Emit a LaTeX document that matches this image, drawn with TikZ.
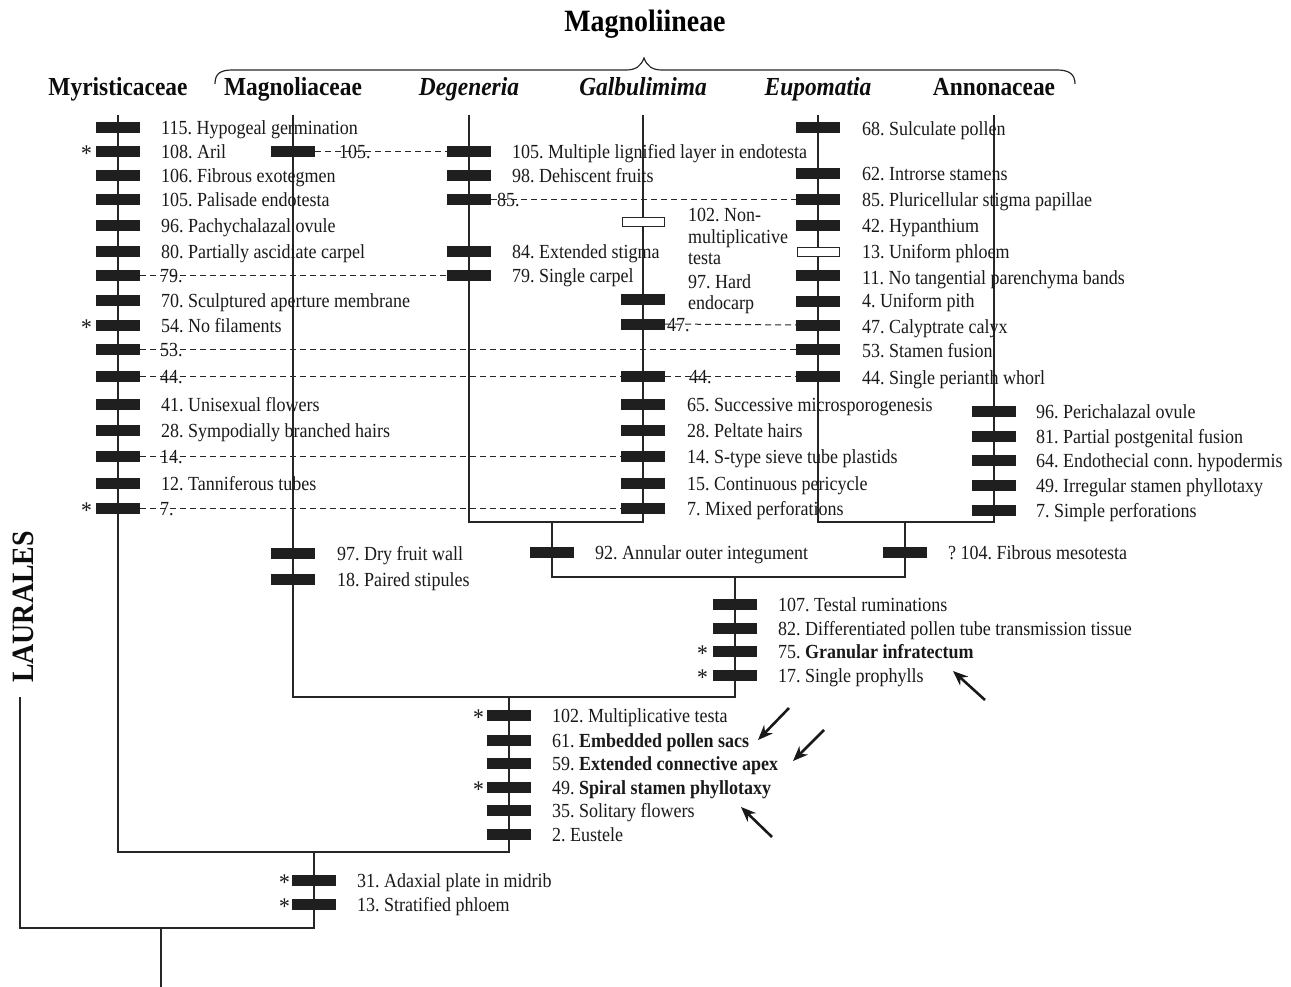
\documentclass[tikz,border=0pt]{standalone}
\usepackage{fontspec}
\setmainfont[FakeStretch=0.9]{Liberation Serif}
\usetikzlibrary{arrows.meta}
\frenchspacing
\begin{document}
\begin{tikzpicture}[x=1pt,y=-1pt,
  tree/.style={line width=1.2pt, black!85},
  bar/.style={fill=black!88, minimum width=44pt, minimum height=11pt, inner sep=0pt, outer sep=0pt},
  obar/.style={draw=black!85, fill=white, line width=1pt, minimum width=42pt, minimum height=9pt, inner sep=0pt, outer sep=0pt},
  lab/.style={anchor=base west, inner sep=0pt, text=black!90, font=\fontsize{20}{22}\selectfont\frenchspacing},
  dnum/.style={anchor=base west, inner sep=0pt, text=black!90, font=\fontsize{20}{22}\selectfont},
  ast/.style={anchor=base east, inner sep=0pt, text=black!90, font=\fontsize{24}{24}\selectfont},
  taxon/.style={anchor=base, inner sep=0pt, text=black!95, font=\fontsize{26}{28}\selectfont\bfseries},
  dline/.style={dash pattern=on 6pt off 4pt, line width=1pt, black!85},
  arr/.style={-{Stealth[length=15pt,width=12pt]}, line width=2.6pt, black!90}
]
\useasboundingbox (0,0) rectangle (1291,987);

% ---- header ----
\node[anchor=base, inner sep=0pt, font=\fontsize{31}{33}\selectfont\bfseries] (mgn) at (645,32) {Magnoliineae};
\draw[line width=1.2pt, black!85] (215,84) .. controls (215,74) and (220,70) .. (232,70) -- (626,70)
   .. controls (636,70) and (641,66) .. (644,58) .. controls (647,66) and (652,70) .. (662,70)
   -- (1057,70) .. controls (1069,70) and (1075,74) .. (1075,84);

\node[taxon] (tmyr) at (118,96) {Myristicaceae};
\node[taxon] (tmag) at (293,96) {Magnoliaceae};
\node[taxon] (tdeg) at (469,96) {\itshape Degeneria};
\node[taxon] (tgal) at (643,96) {\itshape Galbulimima};
\node[taxon] (teup) at (818,96) {\itshape Eupomatia};
\node[taxon] (tann) at (994,96) {Annonaceae};

\node[rotate=90, inner sep=0pt, font=\fontsize{31}{33}\selectfont\bfseries, text=black!95] (laur) at (23,607) {LAURALES};

% ---- tree coordinates ----
\coordinate (myrT) at (118,115); \coordinate (myrB) at (118,852);
\coordinate (magT) at (293,115); \coordinate (magB) at (293,697);
\coordinate (degT) at (469,115); \coordinate (degB) at (469,522);
\coordinate (galT) at (643,115); \coordinate (galB) at (643,522);
\coordinate (eupT) at (818,115); \coordinate (eupB) at (818,522);
\coordinate (annT) at (994,115); \coordinate (annB) at (994,522);
\coordinate (dgT) at (552,522); \coordinate (dgB) at (552,577);
\coordinate (eaT) at (905,522); \coordinate (eaB) at (905,577);
\coordinate (deT) at (735,577); \coordinate (deB) at (735,697);
\coordinate (mrT) at (509,697); \coordinate (mrB) at (509,852);
\coordinate (mlT) at (314,852); \coordinate (mlB) at (314,928);
\coordinate (laT) at (20,697); \coordinate (laB) at (20,928);
\coordinate (rtT) at (161,928); \coordinate (rtB) at (161,987);

\draw[tree] (degT) -- (degB) -- (galB) -- (galT);
\draw[tree] (eupT) -- (eupB) -- (annB) -- (annT);
\draw[tree] (dgT) -- (dgB) -- (eaB) -- (eaT);
\draw[tree] (magT) -- (magB) -- (deB) -- (deT);
\draw[tree] (myrT) -- (myrB) -- (mrB) -- (mrT);
\draw[tree] (laT) -- (laB) -- (mlB) -- (mlT);
\draw[tree] (rtT) -- (rtB);

% ---- Myristicaceae ----
\foreach \n/\y in {115/128,108/152,106/176,105/200,96/226,80/252,79/276,70/300,54/325,53/349,44/376,41/404,28/430,14/456,12/483,7/508}
  \node[bar] (my\n) at (118,\y) {};
\node[lab] (lmy115) at (161,135) {115. Hypogeal germination};
\node[lab] (lmy108) at (161,159) {108. Aril};
\node[lab] (lmy106) at (161,183) {106. Fibrous exotegmen};
\node[lab] (lmy105) at (161,207) {105. Palisade endotesta};
\node[lab] (lmy96) at (161,233) {96. Pachychalazal ovule};
\node[lab] (lmy80) at (161,259) {80. Partially ascidiate carpel};
\node[lab] (lmy70) at (161,307) {70. Sculptured aperture membrane};
\node[lab] (lmy54) at (161,332) {54. No filaments};
\node[lab] (lmy41) at (161,411) {41. Unisexual flowers};
\node[lab] (lmy28) at (161,437) {28. Sympodially branched hairs};
\node[lab] (lmy12) at (161,490) {12. Tanniferous tubes};
\node[ast] (amy108) at (92,162) {*};
\node[ast] (amy54) at (92,335) {*};
\node[ast] (amy7) at (92,518) {*};

% ---- Magnoliaceae ----
\node[bar] (ma105) at (293,152) {};
\node[bar] (ma97) at (293,553) {};
\node[bar] (ma18) at (293,579) {};
\node[lab] (lma97) at (337,560) {97. Dry fruit wall};
\node[lab] (lma18) at (337,586) {18. Paired stipules};

% ---- Degeneria ----
\foreach \n/\y in {105/152,98/176,85/200,84/252,79/276}
  \node[bar] (de\n) at (469,\y) {};
\node[lab] (lde105) at (512,159) {105. Multiple lignified layer in endotesta};
\node[lab] (lde98) at (512,183) {98. Dehiscent fruits};
\node[lab] (lde84) at (512,259) {84. Extended stigma};
\node[lab] (lde79) at (512,283) {79. Single carpel};

% ---- Galbulimima ----
\node[obar] (ga102) at (643,222) {};
\foreach \n/\y in {97/299,47/324,44/376,65/404,28/430,14/456,15/483,7/508}
  \node[bar] (ga\n) at (643,\y) {};
\node[lab] (lga102a) at (688,222) {102. Non-};
\node[lab] (lga102b) at (688,244) {multiplicative};
\node[lab] (lga102c) at (688,265) {testa};
\node[lab] (lga97a) at (688,288) {97. Hard};
\node[lab] (lga97b) at (688,309) {endocarp};
\node[lab] (lga65) at (687,411) {65. Successive microsporogenesis};
\node[lab] (lga28) at (687,437) {28. Peltate hairs};
\node[lab] (lga14) at (687,463) {14. S-type sieve tube plastids};
\node[lab] (lga15) at (687,490) {15. Continuous pericycle};
\node[lab] (lga7) at (687,515) {7. Mixed perforations};

% ---- Eupomatia ----
\foreach \n/\y in {68/128,62/174,85/200,42/226,11/276,4/301,47/325,53/349,44/376}
  \node[bar] (eu\n) at (818,\y) {};
\node[obar] (eu13) at (818,252) {};
\node[lab] (leu68) at (862,136) {68. Sulculate pollen};
\node[lab] (leu62) at (862,181) {62. Introrse stamens};
\node[lab] (leu85) at (862,207) {85. Pluricellular stigma papillae};
\node[lab] (leu42) at (862,233) {42. Hypanthium};
\node[lab] (leu13) at (862,259) {13. Uniform phloem};
\node[lab] (leu11) at (862,284) {11. No tangential parenchyma bands};
\node[lab] (leu4) at (862,308) {4. Uniform pith};
\node[lab] (leu47) at (862,333) {47. Calyptrate calyx};
\node[lab] (leu53) at (862,357) {53. Stamen fusion};
\node[lab] (leu44) at (862,384) {44. Single perianth whorl};

% ---- Annonaceae ----
\foreach \n/\y in {96/411,81/436,64/460,49/485,7/510}
  \node[bar] (an\n) at (994,\y) {};
\node[lab] (lan96) at (1036,418) {96. Perichalazal ovule};
\node[lab] (lan81) at (1036,443) {81. Partial postgenital fusion};
\node[lab] (lan64) at (1036,467) {64. Endothecial conn. hypodermis};
\node[lab] (lan49) at (1036,492) {49. Irregular stamen phyllotaxy};
\node[lab] (lan7) at (1036,517) {7. Simple perforations};

% ---- internal nodes ----
\node[bar] (dg92) at (552,552) {};
\node[lab] (ldg92) at (595,559) {92. Annular outer integument};
\node[bar] (ea104) at (905,552) {};
\node[lab] (lea104) at (948,559) {? 104. Fibrous mesotesta};

\foreach \n/\y in {107/604,82/628,75/651,17/675}
  \node[bar] (dd\n) at (735,\y) {};
\node[lab] (ldd107) at (778,611) {107. Testal ruminations};
\node[lab] (ldd82) at (778,635) {82. Differentiated pollen tube transmission tissue};
\node[lab] (ldd75) at (778,658) {75. \textbf{Granular infratectum}};
\node[lab] (ldd17) at (778,682) {17. Single prophylls};
\node[ast] (add75) at (708,661) {*};
\node[ast] (add17) at (708,685) {*};

\foreach \n/\y in {102/715,61/740,59/763,49/787,35/810,2/834}
  \node[bar] (mr\n) at (509,\y) {};
\node[lab] (lmr102) at (552,722) {102. Multiplicative testa};
\node[lab] (lmr61) at (552,747) {61. \textbf{Embedded pollen sacs}};
\node[lab] (lmr59) at (552,770) {59. \textbf{Extended connective apex}};
\node[lab] (lmr49) at (552,794) {49. \textbf{Spiral stamen phyllotaxy}};
\node[lab] (lmr35) at (552,817) {35. Solitary flowers};
\node[lab] (lmr2) at (552,841) {2. Eustele};
\node[ast] (amr102) at (484,725) {*};
\node[ast] (amr49) at (484,797) {*};

\node[bar] (ml31) at (314,880) {};
\node[bar] (ml13) at (314,904) {};
\node[lab] (lml31) at (357,887) {31. Adaxial plate in midrib};
\node[lab] (lml13) at (357,911) {13. Stratified phloem};
\node[ast] (aml31) at (290,890) {*};
\node[ast] (aml13) at (290,914) {*};

% ---- dashed homoplasy links ----
\draw[dline] (ma105.east) -- (de105.west);
\node[dnum] (n105) at (339,159) {105.};
\draw[dline] (de85.east) -- (eu85.west);
\node[dnum] (n85) at (497,207) {85.};
\draw[dline] (my79.east) -- (de79.west);
\node[dnum] (n79) at (160,283) {79.};
\draw[dline] (ga47.east) -- (eu47.west);
\node[dnum] (n47) at (667,331) {47.};
\draw[dline] (my53.east) -- (eu53.west);
\node[dnum] (n53) at (160,356) {53.};
\draw[dline] (my44.east) -- (ga44.west);
\draw[dline] (ga44.east) -- (eu44.west);
\node[dnum] (n44a) at (160,383) {44.};
\node[dnum] (n44b) at (689,383) {44.};
\draw[dline] (my14.east) -- (ga14.west);
\node[dnum] (n14) at (160,463) {14.};
\draw[dline] (my7.east) -- (ga7.west);
\node[dnum] (n7) at (160,515) {7.};

% ---- arrows ----
\coordinate (a1s) at (985,700); \coordinate (a1e) at (953,671);
\coordinate (a2s) at (789,708); \coordinate (a2e) at (758,740);
\coordinate (a3s) at (824,730); \coordinate (a3e) at (793,761);
\coordinate (a4s) at (772,837); \coordinate (a4e) at (741,807);
\draw[arr] (a1s) -- (a1e);
\draw[arr] (a2s) -- (a2e);
\draw[arr] (a3s) -- (a3e);
\draw[arr] (a4s) -- (a4e);
\end{tikzpicture}
\end{document}
